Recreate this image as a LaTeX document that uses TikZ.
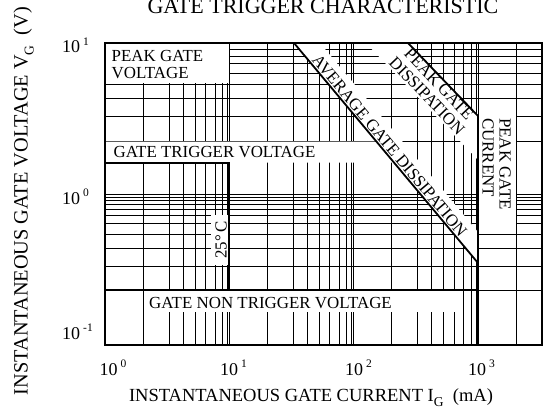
\documentclass[tikz,border=0pt]{standalone}
\usepackage{fontspec}
\setmainfont{Liberation Serif}
\newcommand{\mysub}[1]{\raisebox{-0.3em}{\fontsize{13.5}{13.5}\selectfont #1}}
\newcommand{\mysup}[1]{\,\raisebox{0.42em}{\fontsize{11.5}{11.5}\selectfont #1}}
\begin{document}
\begin{tikzpicture}[x=1pt,y=-1pt,
  gridline/.style={line width=0.9pt, black},
  heavyline/.style={line width=1.8pt, black},
  lbl/.style={font=\fontsize{16.9}{16.8}\selectfont, inner sep=0pt},
  axlbl/.style={font=\fontsize{18.5}{18.5}\selectfont, inner sep=0pt},
  ticklbl/.style={font=\fontsize{18}{18}\selectfont, inner sep=0pt},
  band/.style={fill=white, draw=none}
]
\useasboundingbox (0,0) rectangle (544,412);
\fill[white] (0,0) rectangle (544,412);
% vertical grid
\foreach \b in {105,229.33,353.67} {
  \foreach \o in {38,64,78,90,100.5,110,117.5,122.5} {
    \draw[gridline] (\b+\o,43) -- (\b+\o,345);
  }
}
\foreach \x in {229.33,353.67,478,516} \draw[gridline] (\x,43) -- (\x,345);
% horizontal grid
\foreach \y in {49,56,63,73,84,98,116,141,194,197,200,204,209,215,223,234,248,266}
  \draw[gridline] (105,\y) -- (542,\y);
\draw[gridline] (478,290) -- (542,290);
% white label areas
\fill[band] (104,42) rectangle (228.8,83.5);
\fill[band] (105,141.5) -- (376.4,141.5) -- (394.8,162.5) -- (105,162.5) -- cycle;
\fill[band] (294,43) -- (478,263) -- (478,232) -- (320,43) -- cycle;
\fill[band] (408,43) -- (478,116) -- (478,160) -- (366,43) -- cycle;
\fill[band] (478.5,116) rectangle (515.5,226);
\fill[band] (146,290.9) rectangle (458,312);
\fill[band] (211,215) rectangle (228,265);
% heavy lines
\draw[heavyline] (105,163) -- (229.33,163) -- (229.33,290);
\draw[heavyline] (105,290) -- (478,290);
\draw[heavyline] (478,116) -- (478,345);
\draw[heavyline] (294,43) -- (478,263);
\draw[heavyline] (408,43) -- (478,116);
\draw[heavyline] (105,43) rectangle (542,345);
% texts
\node[font=\fontsize{22}{22}\selectfont, inner sep=0pt, anchor=base] (title) at (323,14) {GATE TRIGGER CHARACTERISTIC};
\node[axlbl, anchor=base] (xlab) at (311,401) {INSTANTANEOUS GATE CURRENT I\mysub{G}\ \ (mA)};
\node[font=\fontsize{20.3}{20.3}\selectfont, inner sep=0pt, rotate=90, anchor=base] (ylab) at (27.5,201) {INSTANTANEOUS GATE VOLTAGE V\mysub{G}\ \ (V)};
\node[ticklbl, anchor=base west] (x0) at (99.5,375) {10\mysup{0}};
\node[ticklbl, anchor=base west] (x1) at (220,375) {10\mysup{1}};
\node[ticklbl, anchor=base west] (x2) at (345,375) {10\mysup{2}};
\node[ticklbl, anchor=base west] (x3) at (468,375) {10\mysup{3}};
\node[ticklbl, anchor=base west] (y1) at (62,53) {10\mysup{1}};
\node[ticklbl, anchor=base west] (y0) at (62,204) {10\mysup{0}};
\node[ticklbl, anchor=base west] (ym1) at (62,339) {10\mysup{-1}};
\node[lbl, anchor=base west] (pgv1) at (111.5,62) {PEAK GATE};
\node[lbl, anchor=base west] (pgv2) at (111.5,78.5) {VOLTAGE};
\node[lbl, anchor=base west] (gtv) at (113.5,157.5) {GATE TRIGGER VOLTAGE};
\node[lbl, anchor=base west] (gntv) at (149,308.5) {GATE NON TRIGGER VOLTAGE};
\node[lbl, rotate=90, anchor=base] (temp) at (226.5,240) {25°\,C};
\node[lbl, rotate=-50.1, anchor=base] (agd) at (385.5,149.3) {AVERAGE GATE DISSIPATION};
\node[lbl, rotate=-46.2, align=center] (pgd) at (433,90) {PEAK GATE\\DISSIPATION};
\node[lbl, rotate=-90, anchor=base west] (pgc1) at (499.5,118) {PEAK GATE};
\node[lbl, rotate=-90, anchor=base west] (pgc2) at (482.5,118) {CURRENT};
\end{tikzpicture}
\end{document}
